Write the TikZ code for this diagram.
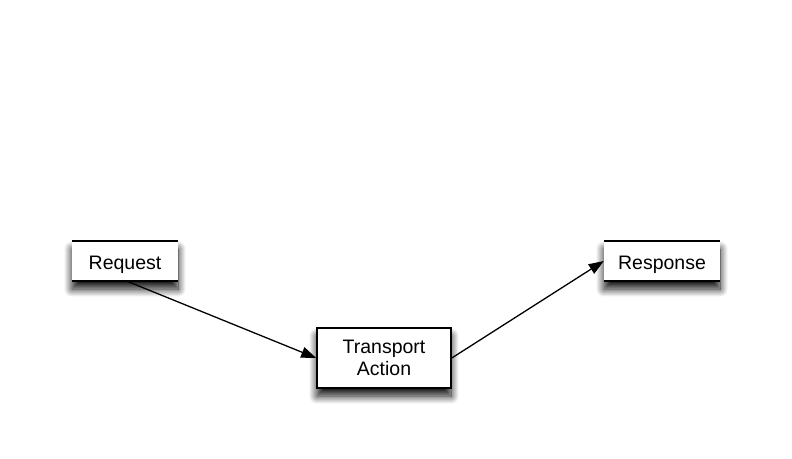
\documentclass[tikz,border=0pt]{standalone}
\usepackage{fontspec}
\setmainfont{Liberation Sans}
\usetikzlibrary{arrows.meta,shadows.blur,calc}

\tikzset{
  softshadow/.style={blur shadow={shadow xshift=0pt, shadow yshift=-8pt,
      shadow blur radius=8pt, shadow blur steps=16, shadow opacity=95}},
  labelbox/.style={fill=white, softshadow, inner sep=0pt, align=center,
      font=\fontsize{19.5}{23}\selectfont},
  openbox/.style={labelbox, text height=17pt, text depth=0pt},
  framedbox/.style={labelbox, draw=black, line width=1.6pt},
  edgeline/.style={line width=1.6pt},
  flow/.style={line width=1.3pt, -{Triangle[length=15pt,width=11pt]}},
}

\begin{document}
\begin{tikzpicture}[x=1pt, y=-1pt]
  \useasboundingbox (0,0) rectangle (792,458);

  % endpoints of the flow
  \node[openbox, minimum width=106pt, minimum height=40pt] (req) at (125,261) {Request};
  \node[openbox, minimum width=116pt, minimum height=40pt] (resp) at (662,261) {Response};
  \node[framedbox, minimum width=134pt, minimum height=60pt] (ta) at (384,358)
       {\raisebox{-2pt}{\shortstack{Transport\\[1pt]Action}}};

  % top and bottom rules of the open boxes
  \foreach \b in {req, resp} {
    \draw[edgeline] (\b.north west) -- (\b.north east);
    \draw[edgeline] (\b.south west) -- (\b.south east);
  }

  % connectors
  \draw[flow] ($(req.south)+(2pt,0)$) -- (ta.west);
  \draw[flow] (ta.east) -- (resp.west);
\end{tikzpicture}
\end{document}
